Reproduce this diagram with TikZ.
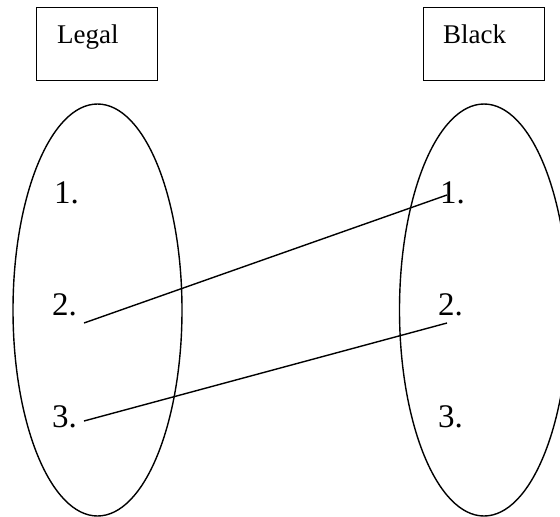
\documentclass[tikz,border=0pt]{standalone}
\usepackage{fontspec}
\setmainfont{Liberation Serif}
\usetikzlibrary{shapes.geometric}
\begin{document}
\begin{tikzpicture}[x=1pt,y=-1pt,
  titlebox/.style={draw,line width=1.4pt,minimum width=121pt,minimum height=73pt,inner sep=0pt,anchor=north west},
  oval/.style={draw,ellipse,line width=1.4pt,minimum width=169pt,minimum height=412pt,inner sep=0pt},
  boxtext/.style={anchor=base west,inner sep=0pt,font=\fontsize{27}{30}\selectfont},
  item/.style={anchor=base west,inner sep=0pt,font=\fontsize{33}{36}\selectfont},
  link/.style={line width=1.4pt}]
\useasboundingbox (0,0) rectangle (560,517);
\node[titlebox] (legalbox) at (36,7) {};
\node[titlebox] (blackbox) at (423,7) {};
\node[boxtext] (legal) at (57,43) {Legal};
\node[boxtext] (black) at (443,43) {Black};
\node[oval] (leftset) at (97.5,310) {};
\node[oval] (rightset) at (484,310) {};
\node[item] (l1) at (54,203) {1.};
\node[item] (l2) at (52,315) {2.};
\node[item] (l3) at (52,427) {3.};
\node[item] (r1) at (440,203) {1.};
\node[item] (r2) at (438,315) {2.};
\node[item] (r3) at (438,427) {3.};
\coordinate (a2) at (84,323);
\coordinate (a3) at (84,421);
\coordinate (b1) at (447,195);
\coordinate (b2) at (447,323);
\draw[link] (a2) -- (b1);
\draw[link] (a3) -- (b2);
\end{tikzpicture}
\end{document}
